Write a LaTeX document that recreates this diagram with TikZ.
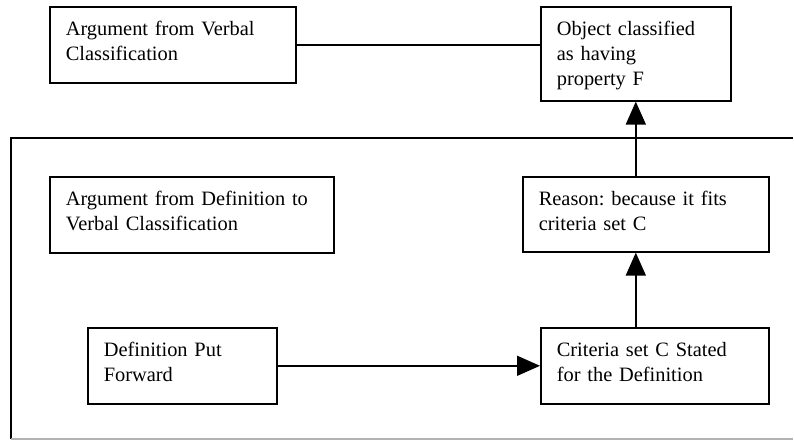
\documentclass[tikz,border=0pt]{standalone}
\usepackage{fontspec}
\setmainfont{Liberation Serif}
\usetikzlibrary{arrows.meta}

\tikzset{
    box/.style={draw, line width=1.6pt, anchor=north west, align=left,
        inner xsep=16pt, inner ysep=0pt, text height=29pt,
        font=\fontsize{20.4}{25}\selectfont\frenchspacing},
    arr/.style={line width=1.6pt, -{Triangle[length=23pt, width=20pt]}}
}

\begin{document}
\begin{tikzpicture}[x=1pt, y=-1pt, line width=1.6pt]
            \useasboundingbox (0,0) rectangle (794,440);

            \node[box, text width=214pt, text depth=47pt] (verbal) at (49,6) {Argument from Verbal\\Classification};
            \node[box, text width=158pt, text depth=65pt] (object) at (540,6) {Object classified\\as having\\property F};
            \node[box, text width=252pt, text depth=47pt] (defverbal) at (49,176) {Argument from Definition to\\Verbal Classification};
            \node[box, text width=214pt, text depth=46pt] (reason) at (522,176) {Reason: because it fits\\criteria set C};
            \node[box, text width=157pt, text depth=47pt] (definition) at (87,327) {Definition Put\\Forward};
            \node[box, text width=196pt, text depth=47pt] (criteria) at (540,327) {Criteria set C Stated\\for the Definition};

            % outer frame
            \draw (793,138) -- (11,138) -- (11,439);
            \draw[gray!60] (11,439) -- (793,439);

            \draw (verbal.east) -- (verbal.east -| object.west);
            \draw[arr] (reason.north -| object.south) -- (object.south);
            \draw[arr] (criteria.north -| object.south) -- (reason.south -| object.south);
            \draw[arr] (definition.east) -- (definition.east -| criteria.west);
        \end{tikzpicture}
\end{document}
